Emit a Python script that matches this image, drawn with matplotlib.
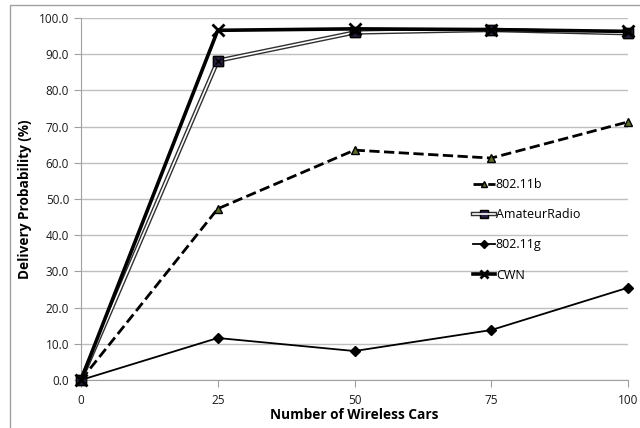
import matplotlib.pyplot as plt
from matplotlib.patches import Rectangle

cars = [0, 25, 50, 75, 100]
b80211 = [0.0, 47.3, 63.5, 61.3, 71.3]
amateur = [0.0, 88.2, 96.0, 96.7, 95.8]
g80211 = [0.0, 11.6, 8.0, 13.8, 25.5]
cwn = [0.0, 96.6, 97.0, 96.8, 96.3]

plt.rcParams['font.family'] = ['Open Sans', 'DejaVu Sans']

fig = plt.figure(figsize=(6.4, 4.28), dpi=100)
ax = fig.add_axes([81/640, 1-380/428, (628-81)/640, (380-18)/428])

# outer chart border (left and top visible)
fig.patches.append(Rectangle((10/640, -0.1), 1.2, 1-5/428+0.1, transform=fig.transFigure,
                             fill=False, edgecolor='#a0a0a0', lw=1))

ax.set_xlim(0, 100)
ax.set_ylim(0, 100)
ax.set_yticks(range(0, 101, 10))
ax.set_yticklabels(['%.1f' % v for v in range(0, 101, 10)])
ax.set_xticks(cars)
ax.grid(axis='y', color='#bfbfbf', lw=1)
ax.set_axisbelow(True)
for s in ['top', 'right']:
    ax.spines[s].set_visible(False)
for s in ['left', 'bottom']:
    ax.spines[s].set_color('#a0a0a0')
ax.tick_params(colors='#a0a0a0', labelcolor='#1a1a1a', labelsize=8.5, length=5)
ax.tick_params(axis='x', pad=5)

l_b, = ax.plot(cars, b80211, 'k--', lw=2, marker='^', ms=6, mfc='#5a6b2a', mec='black',
               clip_on=False, zorder=4)
a1, = ax.plot(cars, amateur, color='#303030', lw=3.2, marker='s', ms=7, mfc='#2a2040',
              mec='black', clip_on=False, zorder=5)
a2, = ax.plot(cars, amateur, color='white', lw=1.2, clip_on=False, zorder=5)
ax.plot(cars, amateur, ls='none', marker='s', ms=7, mfc='#2a2040', mec='black',
        clip_on=False, zorder=6)
ax.plot(cars, amateur, ls='none', marker='x', ms=5, mec='black', mew=1, clip_on=False, zorder=7)
l_g, = ax.plot(cars, g80211, 'k-', lw=1.3, marker='D', ms=5.5, clip_on=False, zorder=4)
l_c, = ax.plot(cars, cwn, 'k-', lw=2.6, marker='x', ms=8, mew=2, clip_on=False, zorder=8)

ax.legend([l_b, (a1, a2), l_g, l_c], ['802.11b', 'AmateurRadio', '802.11g', 'CWN'],
          frameon=False, loc='upper left', bbox_to_anchor=(0.708, 0.572),
          handlelength=1.7, handletextpad=0.1, labelspacing=1.38, fontsize=9,
          markerscale=0.8, borderaxespad=0)

ax.set_xlabel('Number of Wireless Cars', fontsize=9.8, fontweight='bold', labelpad=1)
ax.set_ylabel('Delivery Probability (%)', fontsize=9.8, fontweight='bold', labelpad=5)

fig.savefig('out.png', dpi=100)
